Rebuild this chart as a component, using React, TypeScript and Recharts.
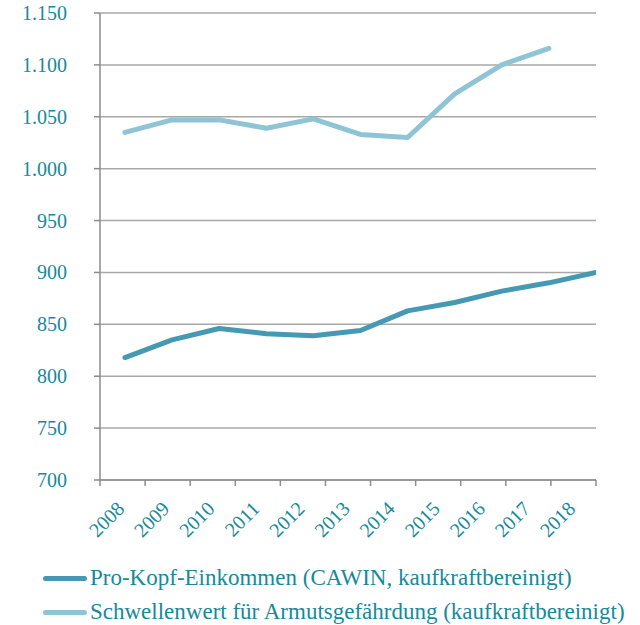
import React from 'react';
import { LineChart, Line, XAxis, YAxis, CartesianGrid } from 'recharts';

const years = [2008, 2009, 2010, 2011, 2012, 2013, 2014, 2015, 2016, 2017, 2018];
const proKopf = [818, 835, 846, 841, 839, 844, 863, 871, 882, 890, 900];
const schwelle: (number | null)[] = [1035, 1047, 1047, 1039, 1048, 1033, 1030, 1072, 1100, 1116, null];
const yTicks = [700, 750, 800, 850, 900, 950, 1000, 1050, 1100, 1150];
const seriesNames = [
  'Pro-Kopf-Einkommen (CAWIN, kaufkraftbereinigt)',
  'Schwellenwert für Armutsgefährdung (kaufkraftbereinigt)',
];

const DARK = '#4599b2';
const LIGHT = '#8fc4d7';
const TEXT = '#17899b';
const SERIF = 'Liberation Serif';

const data = years.map((year, i) => ({ year, idx: i, pro: proKopf[i], schw: schwelle[i] }));

// category boundaries (integers) carry tick marks, midpoints carry labels
const catTicks: number[] = [];
for (let i = 0; i <= years.length; i++) {
  catTicks.push(i);
  if (i < years.length) catTicks.push(i + 0.5);
}

const fmt = (v: number) => {
  const s = String(v);
  return s.length > 3 ? s.slice(0, s.length - 3) + '.' + s.slice(s.length - 3) : s;
};

const CatTick = (props: any) => {
  const { x, y, payload } = props;
  const v = payload.value as number;
  if (Number.isInteger(v)) {
    return <line x1={x} x2={x} y1={y} y2={y + 6} stroke="#8c8c8c" strokeWidth={1.5} />;
  }
  const label = years[Math.floor(v)];
  const tx = x + 3;
  const ty = y + 30;
  return (
    <text
      x={tx}
      y={ty}
      transform={`rotate(-45, ${tx}, ${ty})`}
      textAnchor="end"
      style={{ fill: TEXT, fontFamily: SERIF, fontSize: 20 }}
    >
      {label}
    </text>
  );
};

const YTick = (props: any) => {
  const { x, y, payload } = props;
  return (
    <text
      x={x}
      y={y}
      dy={7}
      textAnchor="end"
      style={{ fill: TEXT, fontFamily: SERIF, fontSize: 20 }}
    >
      {fmt(payload.value)}
    </text>
  );
};

export default function App() {
  return (
    <div style={{ position: 'absolute', left: 0, top: 0, width: 640, height: 625, background: '#fff', fontFamily: SERIF }}>
      <LineChart width={640} height={625} data={data} margin={{ top: 13, right: 44, left: 0, bottom: 85 }}>
        <CartesianGrid xAxisId="cat" vertical={false} stroke="#a8a8a8" strokeWidth={1.5} />
        <XAxis
          xAxisId="cat"
          type="number"
          dataKey="idx"
          domain={[0, years.length]}
          allowDataOverflow
          ticks={catTicks}
          interval={0}
          tickLine={false}
          tickSize={0}
          tickMargin={0}
          tick={<CatTick />}
          axisLine={{ stroke: '#8c8c8c', strokeWidth: 1.5 }}
          height={60}
        />
        <XAxis xAxisId="data" type="number" dataKey="year" domain={[2007.47, 2018]} allowDataOverflow hide />
        <YAxis
          domain={[700, 1150]}
          ticks={yTicks}
          interval={0}
          width={100}
          tickSize={6}
          tickMargin={27}
          tick={<YTick />}
          tickLine={{ stroke: '#8c8c8c', strokeWidth: 1.5 }}
          axisLine={{ stroke: '#8c8c8c', strokeWidth: 1.5 }}
        />
        <Line
          xAxisId="data"
          type="linear"
          dataKey="pro"
          name={seriesNames[0]}
          stroke={DARK}
          strokeWidth={5}
          strokeLinecap="round"
          strokeLinejoin="round"
          dot={false}
          activeDot={false}
          isAnimationActive={false}
        />
        <Line
          xAxisId="data"
          type="linear"
          dataKey="schw"
          name={seriesNames[1]}
          stroke={LIGHT}
          strokeWidth={5}
          strokeLinecap="round"
          strokeLinejoin="round"
          dot={false}
          activeDot={false}
          isAnimationActive={false}
        />
      </LineChart>
      <div style={{ position: 'absolute', left: 43, top: 561, fontFamily: SERIF, fontSize: 23, color: TEXT }}>
        {[DARK, LIGHT].map((c, i) => (
          <div key={i} style={{ display: 'flex', alignItems: 'center', height: 34 }}>
            <div style={{ width: 44, height: 5, borderRadius: 3, background: c, marginRight: 3 }} />
            <span style={{ whiteSpace: 'nowrap' }}>{seriesNames[i]}</span>
          </div>
        ))}
      </div>
    </div>
  );
}
